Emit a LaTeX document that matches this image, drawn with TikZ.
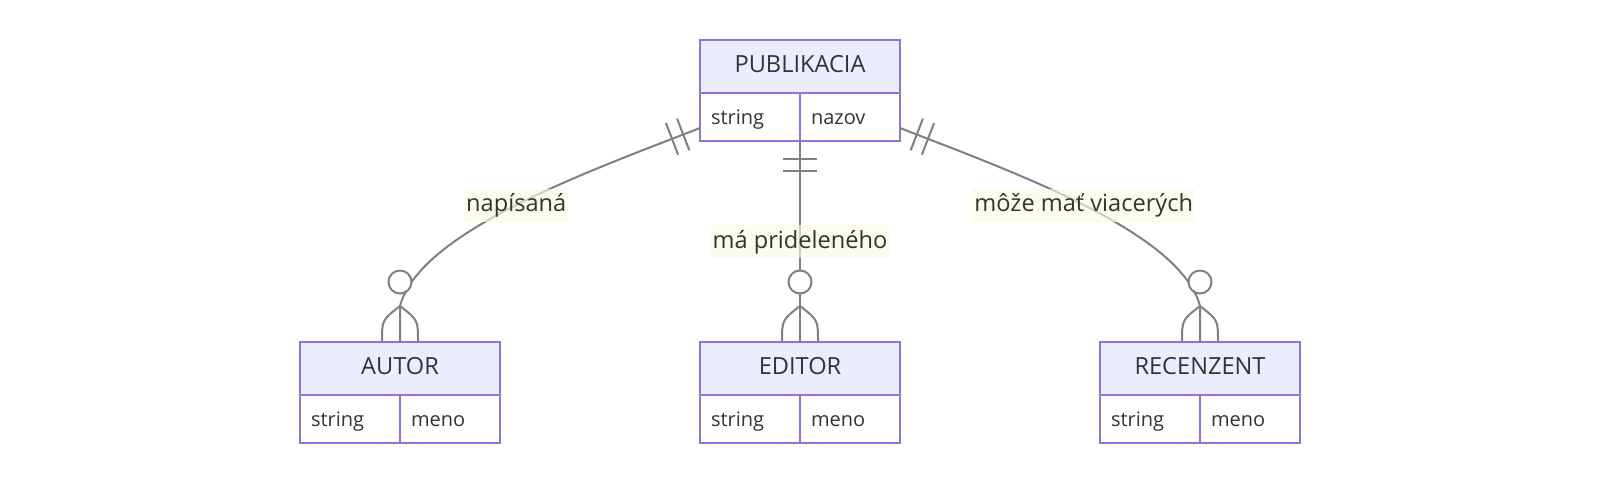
\documentclass[tikz,border=0pt]{standalone}
\usepackage{fontspec}
\setmainfont{Open Sans}
\usetikzlibrary{positioning,calc,decorations.markings}
\definecolor{erborder}{HTML}{9370DB}
\definecolor{erhead}{HTML}{ECECFF}
\definecolor{erline}{HTML}{808080}
\definecolor{ertext}{HTML}{333333}
\definecolor{erlabel}{HTML}{F6FAE6}

\begin{document}
\begin{tikzpicture}[x=1pt,y=-1pt,line width=2pt,node distance=250pt,
                    font=\fontsize{23.6}{28}\selectfont, text=ertext]
  \tikzstyle{entity}=[draw=erborder, fill=erhead, minimum width=200pt,
                      minimum height=53pt, inner sep=0pt, outer sep=0pt,
                      text height=18pt, text depth=6.5pt]
  \tikzstyle{attr}=[draw=erborder, fill=white, text width=78pt, inner xsep=11pt,
                    inner ysep=0pt, outer sep=0pt, minimum height=48pt, align=left,
                    font=\fontsize{20}{24}\selectfont, text height=19pt, text depth=4pt]
  \tikzstyle{rel}=[draw=erline]
  \tikzstyle{lbl}=[fill=erlabel, fill opacity=0.65, text opacity=1,
                   inner xsep=2pt, inner ysep=4pt, text height=19pt, text depth=6pt]
  \tikzstyle{onlyone}=[postaction={decorate,decoration={markings,
      mark=at position 18pt with {\draw[erline] (0pt,-17pt) -- (0pt,17pt);},
      mark=at position 30pt with {\draw[erline] (0pt,-17pt) -- (0pt,17pt);}}}]
  \tikzstyle{zeromany}=[postaction={decorate,decoration={markings,
      mark=at position 1 with {
        \draw[erline] (-36pt,0pt) .. controls (-22pt,18pt) .. (0pt,18pt)
                      (-36pt,0pt) .. controls (-22pt,-18pt) .. (0pt,-18pt);
        \draw[erline, fill=white] (-60pt,0pt) circle (11.5pt);}}}]

  \useasboundingbox (0,0) rectangle (1600,484);

  \node[entity] (pub) at (800,66.5) {PUBLIKACIA};
  \node[attr, below right=0pt of pub.south west] (pubT) {string};
  \node[attr, right=0pt of pubT] (pubN) {nazov};

  \node[entity] (editor) [below=249pt of pub] {EDITOR};
  \node[attr, below right=0pt of editor.south west] (editorT) {string};
  \node[attr, right=0pt of editorT] (editorN) {meno};

  \node[entity] (autor) [left=200pt of editor] {AUTOR};
  \node[attr, below right=0pt of autor.south west] (autorT) {string};
  \node[attr, right=0pt of autorT] (autorN) {meno};

  \node[entity] (recenzent) [right=200pt of editor] {RECENZENT};
  \node[attr, below right=0pt of recenzent.south west] (recenzentT) {string};
  \node[attr, right=0pt of recenzentT] (recenzentN) {meno};

  \coordinate (pubL) at ($(pubT.south west)+(0,-13)$);
  \coordinate (pubR) at ($(pubN.south east)+(0,-13)$);
  \coordinate (autorTip) at ($(autor.north)+(0,-36)$);
  \coordinate (recenzentTip) at ($(recenzent.north)+(0,-36)$);

  \draw[rel, onlyone, zeromany] (pubL) .. controls +(-110,43) and +(20,-75) .. (autorTip)
        node[lbl, pos=0.5] {napísaná} -- (autor.north);
  \draw[rel, onlyone, zeromany] (pubT.south east) -- (editor.north)
        node[lbl, pos=0.5] {má prideleného};
  \draw[rel, onlyone, zeromany] (pubR) .. controls +(110,43) and +(-20,-75) .. (recenzentTip)
        node[lbl, pos=0.5] {môže mať viacerých} -- (recenzent.north);

\end{tikzpicture}
\end{document}
